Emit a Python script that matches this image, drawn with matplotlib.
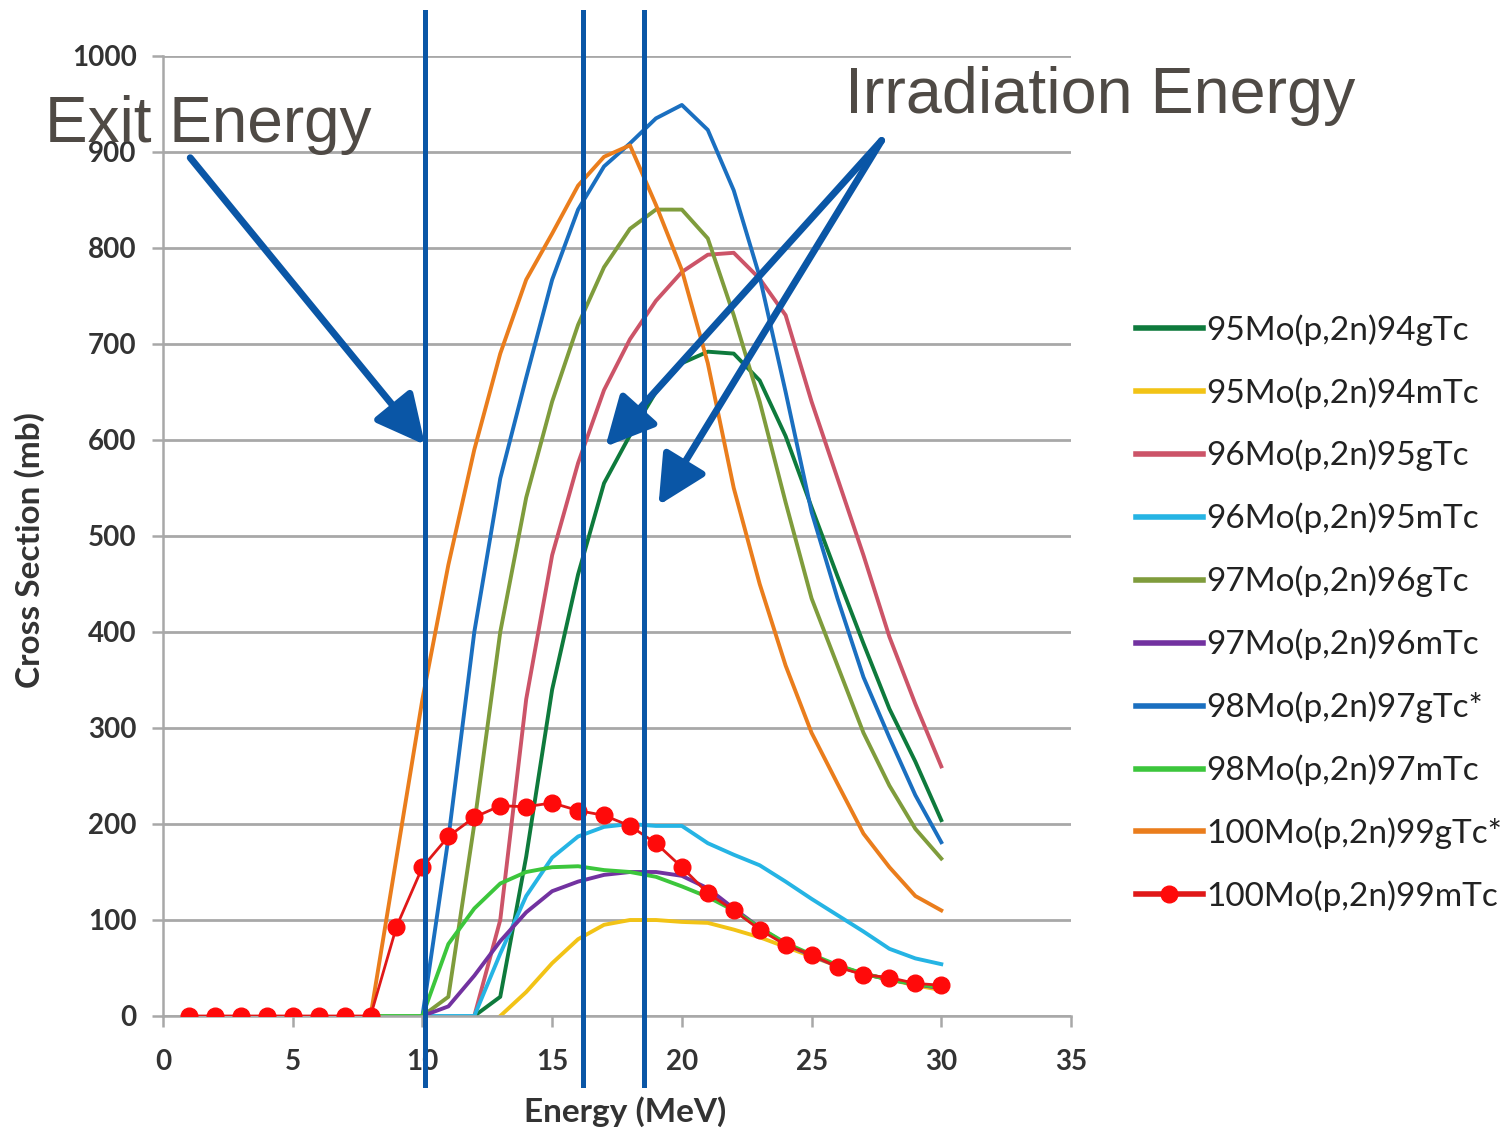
import numpy as np
import matplotlib.pyplot as plt

# proton energy grids (MeV)
energy_red = list(range(1, 31))
energy_from8 = list(range(8, 31))
energy_from10 = list(range(10, 31))
energy_from12 = list(range(12, 31))
energy_from13 = list(range(13, 31))

# cross sections (mb)
mo95_94g = [0, 20, 166, 340, 460, 555, 605, 650, 680, 692, 690, 662, 604, 530, 458, 388, 320, 265, 204]
mo95_94m = [0, 25, 55, 80, 95, 100, 100, 98, 97, 90, 82, 72, 62, 52, 44, 38, 32, 27]
mo96_95g = [0, 100, 330, 480, 576, 652, 705, 745, 775, 793, 795, 768, 730, 640, 560, 480, 395, 325, 260]
mo96_95m = [0, 0, 0, 65, 125, 165, 187, 197, 200, 198, 198, 180, 168, 157, 140, 122, 105, 88, 70, 60, 54]
mo97_96g = [0, 20, 200, 400, 540, 640, 720, 780, 820, 840, 840, 810, 730, 640, 535, 435, 365, 295, 240, 195, 164]
mo97_96m = [0, 10, 42, 78, 108, 130, 140, 147, 150, 150, 146, 133, 112, 92, 75, 63, 52, 44, 38, 33, 29]
mo98_97g = [0, 185, 400, 560, 665, 767, 840, 885, 909, 935, 949, 923, 860, 770, 650, 525, 435, 353, 290, 230, 181]
mo98_97m = [0, 0, 0, 75, 112, 138, 150, 155, 156, 152, 150, 145, 135, 124, 110, 92, 76, 64, 53, 44, 38, 33, 30]
mo100_99g = [0, 165, 330, 470, 590, 690, 767, 815, 865, 895, 907, 845, 777, 680, 550, 450, 365, 295, 242, 190, 155, 125, 110]
mo100_99m = [0, 0, 0, 0, 0, 0, 0, 0, 93, 155, 187, 207, 219, 218, 222, 214, 209, 198, 180, 155,
             128, 110, 90, 74, 64, 51, 43, 40, 34, 32]

labels = ["95Mo(p,2n)94gTc", "95Mo(p,2n)94mTc", "96Mo(p,2n)95gTc", "96Mo(p,2n)95mTc",
          "97Mo(p,2n)96gTc", "97Mo(p,2n)96mTc", "98Mo(p,2n)97gTc*", "98Mo(p,2n)97mTc",
          "100Mo(p,2n)99gTc*", "100Mo(p,2n)99mTc"]
colors = ["#0e7a3c", "#f2c316", "#cc5468", "#25b4e4", "#7f9c3c", "#7232a0", "#1a6fc0",
          "#3cc63c", "#ea7d1c", "#e01818"]

# marked energies (MeV)
exit_energy = 10.1
irradiation_energies = [16.2, 18.55]

ann_color = "#0a56a6"
text_color = "#4f4a45"
tick_font = "Lato"

fig = plt.figure(figsize=(15.01, 11.28), dpi=100)
ax = fig.add_axes([163 / 1501, 112 / 1128, 908 / 1501, 960 / 1128])

series = [
    (energy_from12, mo95_94g),
    (energy_from13, mo95_94m),
    (energy_from12, mo96_95g),
    (energy_from10, mo96_95m),
    (energy_from10, mo97_96g),
    (energy_from10, mo97_96m),
    (energy_from10, mo98_97g),
    (energy_from8, mo98_97m),
    (energy_from8, mo100_99g),
]
for (e, v), lab, c in zip(series, labels[:-1], colors[:-1]):
    ax.plot(e, v, color=c, lw=2.8, label=lab, solid_joinstyle="round")
ax.plot(energy_red, mo100_99m, color=colors[-1], lw=2.0, marker="o", ms=12,
        markerfacecolor="#ff0a0a", markeredgecolor="#ff0a0a", label=labels[-1], zorder=5)

ax.set_xlim(0, 35)
ax.set_ylim(0, 1000)
ax.set_xticks(range(0, 36, 5))
ax.set_yticks(range(0, 1001, 100))
ax.grid(axis="y", color="#a8a8a8", lw=2)
ax.set_axisbelow(True)
for s in ["top", "right"]:
    ax.spines[s].set_visible(False)
ax.spines["left"].set_color("#a8a8a8")
ax.spines["bottom"].set_color("#a8a8a8")
ax.spines["left"].set_linewidth(1.8)
ax.spines["bottom"].set_linewidth(1.8)
ax.tick_params(axis="both", colors="#a8a8a8", width=1.8, length=8, labelcolor="#333333",
               labelsize=20)
ax.tick_params(axis="x", pad=16)
ax.tick_params(axis="y", pad=11)
for lbl in ax.get_xticklabels() + ax.get_yticklabels():
    lbl.set_fontfamily(tick_font)
    lbl.set_fontweight("bold")
ax.set_xlabel("Energy (MeV)", fontsize=24, fontfamily=tick_font, fontweight="bold",
              color="#333333")
ax.set_ylabel("Cross Section (mb)", fontsize=24, fontfamily=tick_font, fontweight="bold",
              color="#333333")
ax.xaxis.set_label_coords(0.509, -0.084)
ax.yaxis.set_label_coords(-0.13, 0.485)

# vertical energy markers extend beyond the axes
for xv in [exit_energy] + irradiation_energies:
    ax.plot([xv, xv], [-72, 1046], color=ann_color, lw=3.6, clip_on=False, zorder=6)

arrow_kw = dict(arrowstyle="-|>,head_length=1.5,head_width=0.75", color=ann_color, lw=5,
                shrinkA=0, shrinkB=0, mutation_scale=20)
ax.annotate("", xy=(exit_energy, 595), xytext=(1.05, 894), arrowprops=arrow_kw,
            annotation_clip=False, zorder=7)
ax.annotate("", xy=(17.05, 593), xytext=(27.7, 912), arrowprops=arrow_kw,
            annotation_clip=False, zorder=7)
ax.annotate("", xy=(19.1, 532), xytext=(27.7, 912), arrowprops=arrow_kw,
            annotation_clip=False, zorder=7)

fig.text(45 / 1501, 1 - 142 / 1128, "Exit Energy", fontsize=46, fontfamily="Liberation Sans",
         color=text_color, ha="left", va="baseline")
fig.text(845 / 1501, 1 - 113 / 1128, "Irradiation Energy", fontsize=46.5,
         fontfamily="Liberation Sans", color=text_color, ha="left", va="baseline")

leg = fig.legend(loc="upper left", bbox_to_anchor=(1136 / 1501, 1 - 314 / 1128), frameon=False,
                 prop={"family": tick_font, "size": 24}, labelspacing=0.94, handlelength=2.0,
                 handletextpad=0.1, borderaxespad=0, borderpad=0)
for t in leg.get_texts():
    t.set_color("#222222")
for h in leg.get_lines():
    h.set_linewidth(4)

fig.savefig("out.png", dpi=100)
